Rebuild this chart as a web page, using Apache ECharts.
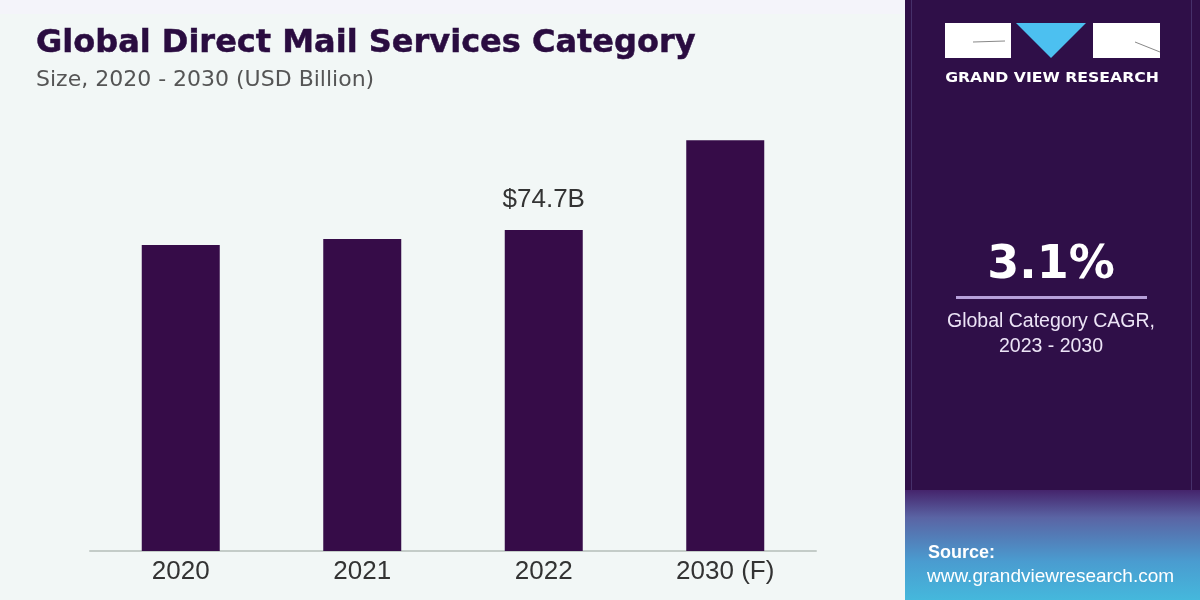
<!DOCTYPE html>
<html><head><meta charset="utf-8">
<script src="https://cdn.jsdelivr.net/npm/echarts@6/dist/echarts.min.js"></script>
<style>html,body{margin:0;padding:0;background:#f2f7f6}#c{width:1200px;height:600px}</style>
</head><body><div id="c"></div>
<script>
const categories = ['2020', '2021', '2022', '2030 (F)'];
const values = [71.2, 72.6, 74.7, 95.6];
const labelIndex = 2;
const labelText = '$74.7B';
const cagr = '3.1%';
const cagrLabel = ['Global Category CAGR,', '2023 - 2030'];

const chart = echarts.init(document.getElementById('c'), null, {renderer: 'canvas'});
const font = '"Liberation Sans", Arial, sans-serif';
chart.setOption({
  backgroundColor: '#f2f7f6',
  animation: false,
  title: [
    {text: 'Global Direct Mail Services Category', left: 31, top: 23,
     textStyle: {fontFamily: '"DejaVu Sans", sans-serif', fontSize: 32, fontWeight: 'bold', color: '#2a0c40', textBorderColor: '#2a0c40', textBorderWidth: 0.5}},
    {text: 'Size, 2020 - 2030 (USD Billion)', left: 31, top: 64,
     textStyle: {fontFamily: '"DejaVu Sans", sans-serif', fontSize: 22, fontWeight: 'normal', color: '#555555'}}
  ],
  grid: {left: 90, width: 726, top: 80, bottom: 49},
  xAxis: {type: 'category', data: categories,
    axisLine: {lineStyle: {color: '#c4ccc8', width: 2}},
    axisTick: {show: false},
    axisLabel: {fontFamily: font, fontSize: 26, color: '#333333', margin: 8}},
  yAxis: {type: 'value', min: 0, max: 109.6, show: false, splitLine: {show: false}},
  series: [{type: 'bar', data: values.map((v, i) => ({value: v, label: {show: i === labelIndex}})),
    barWidth: 78, itemStyle: {color: '#360c48'},
    label: {position: 'top', distance: 17, formatter: () => labelText,
      fontFamily: font, fontSize: 26, color: '#333333'}}],
  graphic: [
    {type: 'rect', shape: {x: 0, y: 0, width: 905, height: 14}, style: {fill: '#f4f4fa'}},
    {type: 'rect', shape: {x: 905, y: 0, width: 295, height: 600}, style: {fill: '#2f0f48'}},
    {type: 'rect', shape: {x: 905, y: 490, width: 295, height: 110},
     style: {fill: new echarts.graphic.LinearGradient(0, 0, 0, 1, [
       {offset: 0, color: '#45246c'}, {offset: 0.25, color: '#5a64a4'}, {offset: 0.65, color: '#4a9cd0'}, {offset: 1, color: '#45b8dc'}])}},
    {type: 'rect', shape: {x: 911, y: 0, width: 1, height: 490}, style: {fill: '#46306a'}},
    {type: 'rect', shape: {x: 1191, y: 0, width: 1, height: 490}, style: {fill: '#46306a'}},
    // logo
    {type: 'rect', shape: {x: 945, y: 23, width: 66, height: 35}, style: {fill: '#ffffff'}},
    {type: 'line', shape: {x1: 973, y1: 42, x2: 1005, y2: 41}, style: {stroke: '#888', lineWidth: 1}},
    {type: 'polygon', shape: {points: [[1016, 23], [1086, 23], [1051, 58]]}, style: {fill: '#4cc0f0'}},
    {type: 'rect', shape: {x: 1093, y: 23, width: 67, height: 35}, style: {fill: '#ffffff'}},
    {type: 'line', shape: {x1: 1135, y1: 42, x2: 1160, y2: 52}, style: {stroke: '#888', lineWidth: 1}},
    {type: 'text', x: 1052, y: 78, scaleX: 1.12, originX: 0, originY: 0,
     style: {text: 'GRAND VIEW RESEARCH', fill: '#ffffff', font: 'bold 14px "DejaVu Sans", sans-serif', textAlign: 'center', textVerticalAlign: 'middle'}},
    // CAGR
    {type: 'text', x: 1051, y: 266, style: {text: cagr, fill: '#ffffff', font: 'bold 46px "DejaVu Sans", sans-serif', textAlign: 'center', textVerticalAlign: 'middle'}},
    {type: 'rect', shape: {x: 956, y: 296, width: 191, height: 3}, style: {fill: '#b7a0da'}},
    {type: 'text', x: 1051, y: 322, style: {text: cagrLabel[0], fill: '#ece4f6', font: '19.5px "Liberation Sans", Arial, sans-serif', textAlign: 'center', textVerticalAlign: 'middle'}},
    {type: 'text', x: 1051, y: 347, style: {text: cagrLabel[1], fill: '#ece4f6', font: '19.5px "Liberation Sans", Arial, sans-serif', textAlign: 'center', textVerticalAlign: 'middle'}},
    // source
    {type: 'text', x: 928, y: 553, style: {text: 'Source:', fill: '#ffffff', font: 'bold 18px "Liberation Sans", Arial, sans-serif', textVerticalAlign: 'middle'}},
    {type: 'text', x: 927, y: 577, style: {text: 'www.grandviewresearch.com', fill: '#ffffff', font: '19px "Liberation Sans", Arial, sans-serif', textVerticalAlign: 'middle'}}
  ]
});
</script></body></html>
